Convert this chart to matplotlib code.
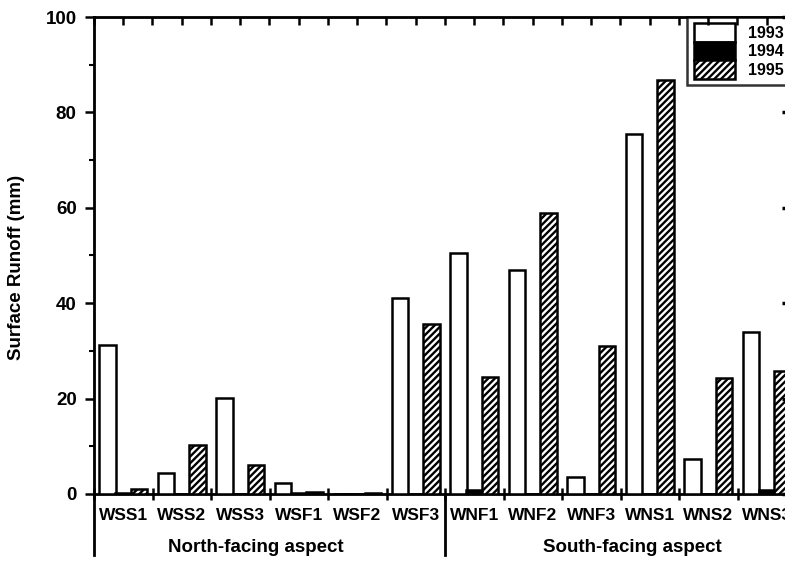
import matplotlib
matplotlib.use("Agg")
import matplotlib.pyplot as plt
import matplotlib.transforms as mtransforms
import numpy as np

plt.rcParams['font.family'] = ['Liberation Sans', 'DejaVu Sans']
plt.rcParams['font.weight'] = 'bold'
plt.rcParams['hatch.linewidth'] = 1.7

# ---------------- data ----------------
sites = ["WSS1", "WSS2", "WSS3", "WSF1", "WSF2", "WSF3",
         "WNF1", "WNF2", "WNF3", "WNS1", "WNS2", "WNS3"]
runoff_1993 = [31.2, 4.3, 20.1, 2.4, 0.1, 41.0, 50.5, 47.0, 3.6, 75.4, 7.4, 34.0]
runoff_1994 = [0.3, 0.0, 0.0, 0.3, 0.1, 0.0, 0.8, 0.0, 0.0, 0.0, 0.0, 0.8]
runoff_1995 = [1.0, 10.3, 6.1, 0.5, 0.3, 35.6, 24.5, 59.0, 31.0, 86.7, 24.4, 25.7]
years = ["1993", "1994", "1995"]
groups = ["North-facing aspect", "South-facing aspect"]
group_sizes = [6, 6]
y_ticks = [0, 20, 40, 60, 80, 100]

# ---------------- figure ----------------
fig = plt.figure(figsize=(7.85, 5.62), dpi=100)
ax = fig.add_axes([94 / 785, 68 / 562, 702 / 785, 477 / 562])

x = np.arange(len(sites)) + 0.5
off = 0.27
w = 0.28
common = dict(edgecolor='black', linewidth=1.8, zorder=3)
b1 = ax.bar(x - off, runoff_1993, w, color='white', label=years[0], **common)
b2 = ax.bar(x, runoff_1994, w, color='black', label=years[1], **common)
b3 = ax.bar(x + off, runoff_1995, w, color='white', hatch='/////', label=years[2], **common)

ax.set_xlim(0, len(sites))
ax.set_ylim(0, 100)

for s in ax.spines.values():
    s.set_linewidth(2.0)

# y axis
ax.set_yticks(y_ticks)
ax.set_yticks(np.arange(10, 100, 20), minor=True)
ax.tick_params(axis='y', which='major', direction='out', length=6.5, width=1.8,
               labelsize=13.5, pad=6, right=False)
ax.tick_params(axis='y', which='minor', direction='out', length=3.5, width=1.5, right=False)
ax.set_ylabel("Surface Runoff (mm)", fontsize=13.5, fontweight='bold')
ax.yaxis.set_label_coords(-0.098, 0.474)

# x axis: boundaries as major ticks, names at centers
ax.set_xticks(np.arange(0, len(sites) + 1))
ax.set_xticklabels([])
ax.set_xticks(x, minor=True)
ax.set_xticklabels(sites, minor=True, fontsize=12.5, fontweight='bold')
ax.tick_params(axis='x', which='major', direction='inout', length=8, width=1.8, top=False)
ax.tick_params(axis='x', which='minor', length=0, pad=10, top=False)

# top ticks (inward, every half group)
axt = ax.twiny()
axt.set_xlim(ax.get_xlim())
axt.set_xticks(np.arange(0, len(sites) + 0.01, 0.5))
axt.set_xticklabels([])
axt.tick_params(axis='x', direction='in', length=6, width=1.8)

# right ticks (inward)
axr = ax.twinx()
axr.set_ylim(ax.get_ylim())
axr.set_yticks(y_ticks)
axr.set_yticklabels([])
axr.tick_params(axis='y', direction='in', length=10, width=2.5)

# group separators and labels below axis
trans = mtransforms.blended_transform_factory(ax.transData, ax.transAxes)
bounds = np.concatenate([[0], np.cumsum(group_sizes)])
for b in bounds[:-1]:
    ax.plot([b, b], [0, -0.128], transform=trans, color='black', lw=2.0, clip_on=False)
label_pos = [2.77, 9.2]
for g, xp in zip(groups, label_pos):
    ax.text(xp, -0.113, g, transform=trans, ha='center', va='center',
            fontsize=13.5, fontweight='bold')

# legend
leg = ax.legend(handles=[b1, b2, b3], labels=years, loc='upper left',
                bbox_to_anchor=(0.845, 1.0), borderaxespad=0, frameon=True,
                fancybox=False, edgecolor='black', fontsize=11.5,
                handlelength=2.6, handleheight=1.4, labelspacing=0.0,
                handletextpad=0.8, borderpad=0.4)
leg.get_frame().set_linewidth(1.8)
for t in leg.get_texts():
    t.set_fontweight('bold')

fig.savefig("out.png", dpi=100)
